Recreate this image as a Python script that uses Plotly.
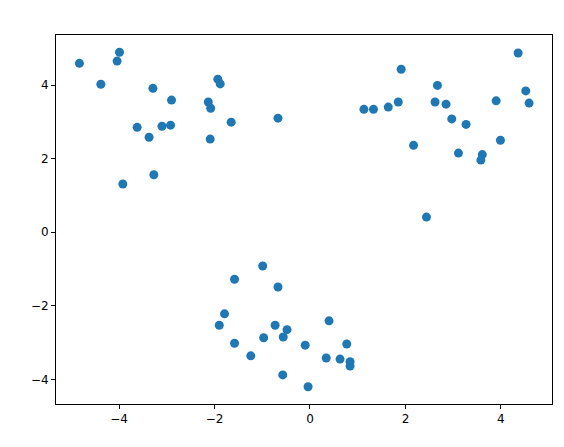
import plotly.graph_objects as go

x_vals = [-4.83, -4.38, -3.99, -4.04, -3.29, -2.90, -3.62, -3.37, -3.10, -2.92,
          -3.92, -3.27, -2.13, -2.08, -1.93, -1.88, -1.65, -2.09, -0.67,
          4.36, 1.91, 2.67, 4.52, 4.59, 1.13, 1.33, 1.64, 1.85, 2.62,
          2.85, 3.90, 2.97, 3.27, 2.17, 3.11, 3.61, 3.58, 3.99, 2.44,
          -0.99, -1.58, -0.67, -1.79, -1.90, -0.73, -0.48, -0.56, -0.97, -1.58,
          0.40, -0.10, 0.77, -1.24, 0.34, 0.63, 0.84, 0.84, -0.57, -0.04]
y_vals = [4.59, 4.02, 4.89, 4.65, 3.91, 3.59, 2.85, 2.58, 2.88, 2.91,
          1.31, 1.56, 3.54, 3.37, 4.16, 4.03, 2.99, 2.53, 3.10,
          4.87, 4.43, 3.99, 3.84, 3.51, 3.34, 3.34, 3.40, 3.54, 3.54,
          3.48, 3.57, 3.08, 2.93, 2.36, 2.15, 2.11, 1.96, 2.50, 0.41,
          -0.92, -1.28, -1.49, -2.22, -2.53, -2.53, -2.65, -2.85, -2.87, -3.02,
          -2.41, -3.07, -3.04, -3.36, -3.42, -3.45, -3.52, -3.64, -3.88, -4.20]

x_ticks = [-4, -2, 0, 2, 4]
y_ticks = [-4, -2, 0, 2, 4]
tick_text = ["\u22124", "\u22122", "0", "2", "4"]

fig = go.Figure(go.Scatter(
    x=x_vals, y=y_vals, mode="markers",
    marker=dict(color="#1f77b4", size=9, line=dict(width=0)),
))

axis_common = dict(
    showgrid=False, zeroline=False, showline=True, linecolor="black", linewidth=1,
    mirror=True, ticks="outside", ticklen=4, tickcolor="black", tickwidth=1,
    tickfont=dict(family="DejaVu Sans", size=12, color="black"),
)
fig.update_xaxes(range=[-5.32, 5.07], tickvals=x_ticks, ticktext=tick_text, **axis_common)
fig.update_yaxes(range=[-4.67, 5.36], tickvals=y_ticks, ticktext=tick_text, **axis_common)

# page body has an 8px margin, so the figure is 16px smaller and margins shifted by 8px
fig.update_layout(
    width=548, height=431,
    margin=dict(l=48, r=4, t=27, b=35),
    paper_bgcolor="white", plot_bgcolor="white",
    showlegend=False,
)

fig.write_html("out.html", config={"responsive": False, "displayModeBar": False})
